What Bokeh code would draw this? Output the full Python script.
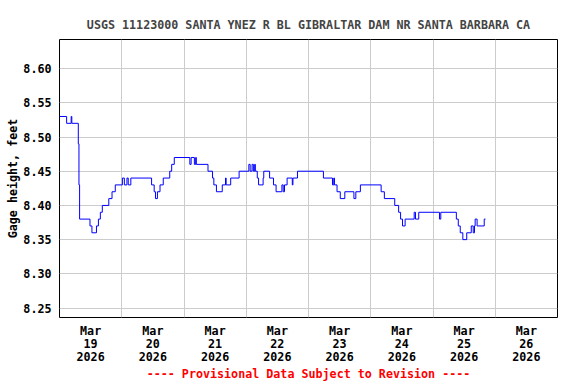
import pandas as pd
from bokeh.plotting import figure
from bokeh.models import FixedTicker, DatetimeTickFormatter, Range1d, PrintfTickFormatter
from bokeh.embed import file_html
from bokeh.resources import INLINE

# ---- data ----
times = [
    "2026-03-19 00:00", "2026-03-19 02:45", "2026-03-19 04:30", "2026-03-19 04:45",
    "2026-03-19 07:15", "2026-03-19 07:30", "2026-03-19 07:45", "2026-03-19 11:45",
    "2026-03-19 12:30", "2026-03-19 14:15", "2026-03-19 15:00", "2026-03-19 15:45",
    "2026-03-19 16:30", "2026-03-19 19:00", "2026-03-19 20:15", "2026-03-19 21:30",
    "2026-03-20 00:15", "2026-03-20 01:00", "2026-03-20 02:00", "2026-03-20 02:30",
    "2026-03-20 03:30", "2026-03-20 11:30", "2026-03-20 12:30", "2026-03-20 13:00",
    "2026-03-20 13:45", "2026-03-20 14:45", "2026-03-20 16:00", "2026-03-20 18:30",
    "2026-03-20 19:15", "2026-03-20 20:15", "2026-03-21 02:15", "2026-03-21 02:45",
    "2026-03-21 04:00", "2026-03-21 04:30", "2026-03-21 04:45", "2026-03-21 09:15",
    "2026-03-21 11:00", "2026-03-21 11:30", "2026-03-21 12:30", "2026-03-21 14:45",
    "2026-03-21 16:00", "2026-03-21 16:15", "2026-03-21 18:00", "2026-03-21 21:15",
    "2026-03-22 01:00", "2026-03-22 01:30", "2026-03-22 02:15", "2026-03-22 02:45",
    "2026-03-22 03:15", "2026-03-22 03:30", "2026-03-22 04:15", "2026-03-22 04:45",
    "2026-03-22 06:30", "2026-03-22 06:45", "2026-03-22 09:00", "2026-03-22 10:30",
    "2026-03-22 11:30", "2026-03-22 13:45", "2026-03-22 14:15", "2026-03-22 14:45",
    "2026-03-22 15:45", "2026-03-22 17:45", "2026-03-22 18:00", "2026-03-22 19:45",
    "2026-03-23 05:45", "2026-03-23 09:15", "2026-03-23 09:45", "2026-03-23 10:00",
    "2026-03-23 11:00", "2026-03-23 12:15", "2026-03-23 14:00", "2026-03-23 17:30",
    "2026-03-23 18:15", "2026-03-23 20:00", "2026-03-24 04:00", "2026-03-24 05:15",
    "2026-03-24 09:15", "2026-03-24 10:45", "2026-03-24 11:30", "2026-03-24 12:15",
    "2026-03-24 13:15", "2026-03-24 16:45", "2026-03-24 17:15", "2026-03-24 18:30",
    "2026-03-25 02:30", "2026-03-25 03:00", "2026-03-25 09:00", "2026-03-25 09:45",
    "2026-03-25 10:30", "2026-03-25 11:30", "2026-03-25 13:00", "2026-03-25 14:45",
    "2026-03-25 15:30", "2026-03-25 16:00", "2026-03-25 16:15", "2026-03-25 17:00",
    "2026-03-25 19:45", "2026-03-25 20:15",
]
gage_ft = [
    8.53, 8.52, 8.53, 8.52,
    8.49, 8.43, 8.38, 8.37,
    8.36, 8.37, 8.38, 8.39,
    8.40, 8.41, 8.42, 8.43,
    8.44, 8.43, 8.44, 8.43,
    8.44, 8.43, 8.42, 8.41,
    8.42, 8.43, 8.44, 8.45,
    8.46, 8.47, 8.46, 8.47,
    8.46, 8.47, 8.46, 8.45,
    8.44, 8.43, 8.42, 8.43,
    8.44, 8.43, 8.44, 8.45,
    8.46, 8.45, 8.46, 8.45,
    8.46, 8.45, 8.44, 8.43,
    8.44, 8.45, 8.44, 8.43,
    8.42, 8.43, 8.42, 8.43,
    8.44, 8.43, 8.44, 8.45,
    8.44, 8.43, 8.44, 8.43,
    8.42, 8.41, 8.42, 8.41,
    8.42, 8.43, 8.42, 8.41,
    8.40, 8.39, 8.38, 8.37,
    8.38, 8.39, 8.38, 8.39,
    8.38, 8.39, 8.38, 8.37,
    8.36, 8.35, 8.36, 8.37,
    8.36, 8.37, 8.38, 8.37,
    8.38, 8.38,
]
label_days = ["2026-03-19", "2026-03-20", "2026-03-21", "2026-03-22",
              "2026-03-23", "2026-03-24", "2026-03-25", "2026-03-26"]
grid_days = ["2026-03-19", "2026-03-20", "2026-03-21", "2026-03-22", "2026-03-23",
             "2026-03-24", "2026-03-25", "2026-03-26", "2026-03-27"]
y_ticks = [8.25, 8.30, 8.35, 8.40, 8.45, 8.50, 8.55, 8.60]

title_text = "USGS 11123000 SANTA YNEZ R BL GIBRALTAR DAM NR SANTA BARBARA CA"
y_label = "Gage height, feet"
footer = "---- Provisional Data Subject to Revision ----"

# ---- build ----
def ms(s):
    return pd.Timestamp(s).value // 10**6

x = pd.to_datetime(times)
noon_ticks = [ms(d) + 12 * 3600 * 1000 for d in label_days]
mid_ticks = [ms(d) for d in grid_days]

FONT = "DejaVu Sans Mono"
FS = "11.7px"

p = figure(width=576, height=384, x_axis_type="datetime",
           output_backend="svg", toolbar_location=None,
           x_range=Range1d(mid_ticks[0], mid_ticks[-1]),
           y_range=Range1d(8.2362, 8.6425),
           min_border_left=59, min_border_right=19,
           min_border_top=39, min_border_bottom=67)

p.title.text = title_text
p.title.align = "center"
p.title.text_font = FONT
p.title.text_font_style = "bold"
p.title.text_font_size = FS
p.title.standoff = 16

p.outline_line_color = "black"
p.outline_line_width = 1
p.background_fill_color = "white"
p.border_fill_color = "white"

p.step(x, gage_ft, mode="after", line_color="#0000FF", line_width=1)

fmt = "%b\n%d\n%Y"
p.xaxis.ticker = FixedTicker(ticks=noon_ticks)
p.xaxis.formatter = DatetimeTickFormatter(
    microseconds=fmt, milliseconds=fmt, seconds=fmt, minsec=fmt, minutes=fmt,
    hourmin=fmt, hours=fmt, days=fmt, months=fmt, years=fmt)
p.xgrid.ticker = FixedTicker(ticks=mid_ticks)
p.yaxis.ticker = FixedTicker(ticks=y_ticks)
p.ygrid.ticker = FixedTicker(ticks=y_ticks)
p.yaxis.formatter = PrintfTickFormatter(format="%.2f")

for g in (p.xgrid, p.ygrid):
    g.grid_line_color = "#CCCCCC"
    g.grid_line_width = 1

for ax in (p.xaxis, p.yaxis):
    ax.axis_line_color = None
    ax.major_tick_line_color = None
    ax.minor_tick_line_color = None
    ax.major_tick_out = 0
    ax.major_tick_in = 0
    ax.minor_tick_out = 0
    ax.minor_tick_in = 0
    ax.major_label_text_font = FONT
    ax.major_label_text_font_style = "bold"
    ax.major_label_text_font_size = FS
    ax.major_label_text_color = "black"
    ax.axis_label_text_font = FONT
    ax.axis_label_text_font_style = "bold"
    ax.axis_label_text_font_size = FS

p.xaxis.major_label_text_line_height = 0.95
p.xaxis.major_label_standoff = 6
p.xaxis.axis_label = footer
p.xaxis.axis_label_text_color = "red"
p.xaxis.axis_label_standoff = 0

p.yaxis.axis_label = y_label
p.yaxis.axis_label_text_color = "black"
p.yaxis.major_label_standoff = 8
p.yaxis.axis_label_standoff = 0

open("out.html", "w").write(file_html(p, INLINE))
